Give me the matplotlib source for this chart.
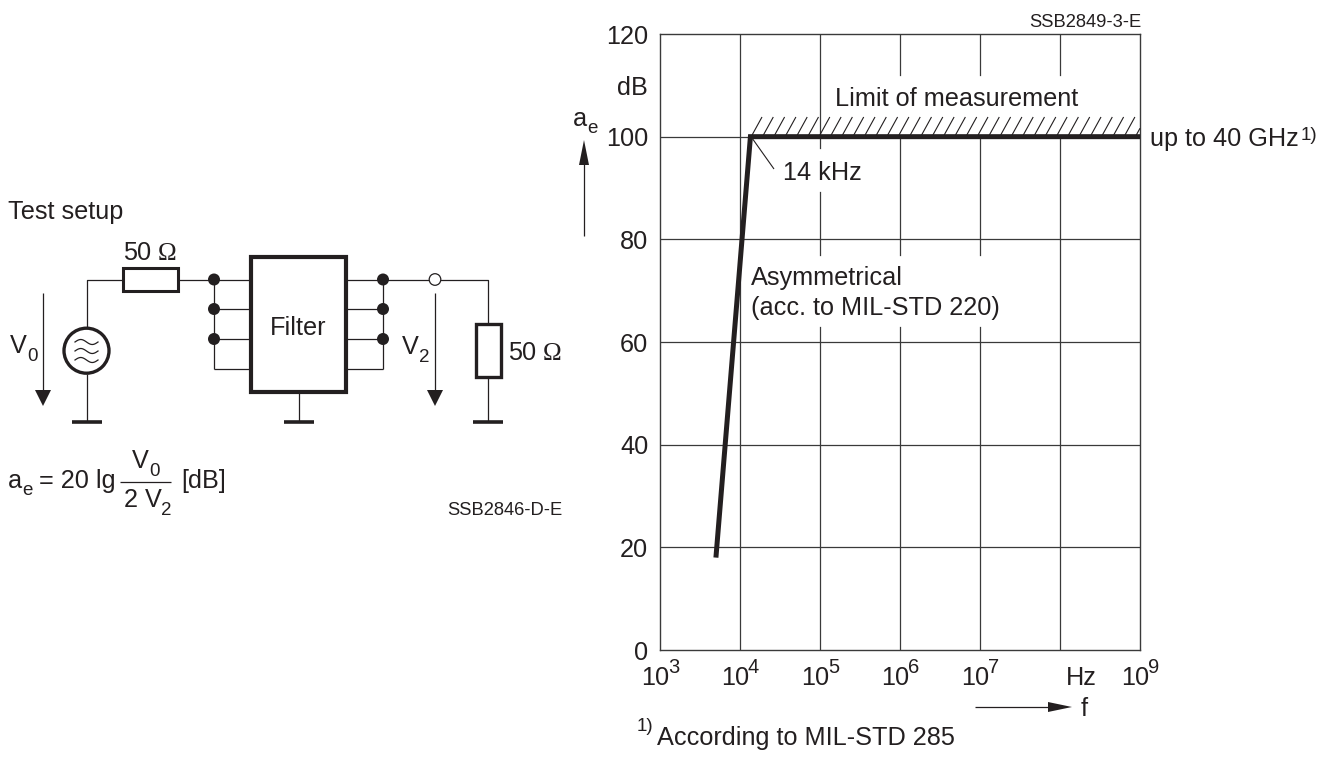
import numpy as np
import matplotlib
matplotlib.use("Agg")
import matplotlib.pyplot as plt
from matplotlib.patches import Circle, Rectangle, Polygon

plt.rcParams["font.family"] = ["Liberation Sans", "DejaVu Sans"]

INK = "#231f20"
GRID = "#3a3a3a"
FS = 18.2

# curve
freq = [5000, 13500, 1e9]
atten = [18, 100, 100]

y_ticks = [0, 20, 40, 60, 80, 100, 120]
x_lines = [1e4, 1e5, 1e6, 1e7, 1e8]
x_exps = [3, 4, 5, 6, 7, 9]

# vertical grid pieces (the lines stop around the text labels)
grid_pieces = {
    1e4: [(0, 120)],
    1e5: [(0, 63), (77, 89.2), (97.8, 120)],
    1e6: [(0, 63), (77, 100), (112, 120)],
    1e7: [(0, 63), (77, 100), (112, 120)],
    1e8: [(0, 100), (112, 120)],
}

fig = plt.figure(figsize=(13.33, 7.59), dpi=100)
W, H = 1333, 759

# chart
ax = fig.add_axes([660 / W, 1 - 650 / H, 480 / W, 616 / H])
ax.set_xscale("log")
ax.set_xlim(1e3, 1e9)
ax.set_ylim(0, 120)
for s in ax.spines.values():
    s.set_linewidth(1.0)
    s.set_color(GRID)
ax.minorticks_off()
ax.set_xticks([])
ax.tick_params(axis="x", which="both", length=0, labelbottom=False)
ax.set_yticks(y_ticks)
ax.set_yticklabels([str(v) for v in y_ticks], fontsize=FS, color=INK)
ax.tick_params(axis="y", length=0, pad=8.5)

for v in y_ticks[1:-1]:
    ax.plot([1e3, 1e9], [v, v], color=GRID, lw=0.9, zorder=1)
for xv in x_lines:
    for lo, hi in grid_pieces[xv]:
        ax.plot([xv, xv], [lo, hi], color=GRID, lw=0.9, zorder=1)

ax.plot(freq, atten, color=INK, lw=3.6, solid_capstyle="butt", solid_joinstyle="miter", zorder=3)

for e in x_exps:
    ax.annotate("10", xy=(10.0**e, 0), xytext=(-19 * 0.72, -35 * 0.72), textcoords="offset points",
                fontsize=FS, color=INK, annotation_clip=False)
    ax.annotate(str(e), xy=(10.0**e, 0), xytext=(8 * 0.72, -23 * 0.72), textcoords="offset points",
                fontsize=14.5, color=INK, annotation_clip=False)

# everything else is placed in pixels on a full figure overlay
ov = fig.add_axes([0, 0, 1, 1], facecolor="none")
ov.set_xlim(0, W)
ov.set_ylim(H, 0)
ov.axis("off")


def line(xs, ys, lw=0.9, color=INK):
    ov.plot(xs, ys, color=color, lw=lw, solid_capstyle="butt")


def txt(x, y, s, size=FS, **kw):
    ov.text(x, y, s, fontsize=size, color=INK, va="baseline", **kw)


def box(x0, y0, x1, y1, lw):
    ov.add_patch(Rectangle((x0, y0), x1 - x0, y1 - y0, fc="white", ec=INK, lw=lw, zorder=3))


def arrow_down(x, y0, y1):
    line([x, x], [y0, y1 - 10])
    ov.add_patch(Polygon([(x - 8, y1 - 16), (x + 8, y1 - 16), (x, y1)], color=INK, lw=0))


def node(x, y):
    ov.add_patch(Circle((x, y), 6, fc=INK, ec=INK, lw=0, zorder=4))


def ground(x, y):
    line([x - 15, x + 15], [y, y], lw=2.6)


# hatching above the limit line
for xb in np.arange(751, 1140, 11.3):
    top = min(xb + 11, 1140)
    line([xb, top], [137, 137 - 20 * (top - xb) / 11], lw=0.8)

# leader for 14 kHz
line([752, 774], [138, 169], lw=0.8)

txt(835, 106, "Limit of measurement")
txt(783, 180, "14 kHz")
txt(751, 285, "Asymmetrical")
txt(751, 315, "(acc. to MIL-STD 220)")
txt(1150, 146, "up to 40 GHz")
txt(1301, 140, "1)", size=13.5)
txt(1141, 27, "SSB2849-3-E", size=13.2, ha="right")
txt(648, 95, "dB", ha="right")
txt(573, 126, "a")
txt(587, 133, "e", size=13.5)
txt(1066, 685, "Hz")
txt(1081, 716, "f")
txt(637, 731, "1)", size=13.5)
txt(657, 745, "According to MIL-STD 285")

# a_e and f arrows
line([584, 584], [236, 160])
ov.add_patch(Polygon([(579, 165), (589, 165), (584, 140)], color=INK, lw=0))
line([975, 1055], [707, 707])
ov.add_patch(Polygon([(1048, 702), (1048, 712), (1072, 707)], color=INK, lw=0))

# circuit: left side
rows = [279.5, 309, 339, 369]
txt(8, 219, "Test setup")
line([86.5, 86.5, 214], [327, 279.5, 279.5])
line([86.5, 86.5], [374, 421.7])
ground(86.5, 421.7)
box(123, 267.5, 178, 291, 2.2)
txt(123, 260, "50")
txt(158, 260, "Ω", size=FS, family="Liberation Serif")
ov.add_patch(Circle((86.5, 350.7), 22.5, fc="white", ec=INK, lw=2.4, zorder=3))
wave_x = np.linspace(75, 98, 40)
for wy in [342, 351, 360]:
    ov.plot(wave_x, wy - 2.5 * np.sin((wave_x - 75) / 23 * 2 * np.pi), color=INK, lw=0.9, zorder=4)
arrow_down(43, 293, 406)
txt(10, 353, "V")
txt(27, 361, "0", size=13.5)

line([214, 214], [rows[0], rows[-1]])
for r in rows:
    line([214, 251], [r, r])
for r in rows[:3]:
    node(214, r)

# filter block
box(251, 257, 345.5, 391.5, 3.0)
txt(270, 335, "Filter")
line([298.7, 298.7], [392, 421.7])
ground(298.7, 421.7)

# circuit: right side
line([383, 383], [rows[0], rows[-1]])
for r in rows:
    line([346, 383], [r, r])
for r in rows[:3]:
    node(383, r)
line([383, 488, 488], [279.5, 279.5, 421.7])
ov.add_patch(Circle((435, 279.5), 5.8, fc="white", ec=INK, lw=0.9, zorder=4))
arrow_down(435, 293, 406)
txt(402, 354, "V")
txt(419, 361.5, "2", size=13.5)
box(476, 324, 500.5, 377, 2.4)
txt(508, 360, "50")
txt(543, 360, "Ω", size=FS, family="Liberation Serif")
ground(488, 421.7)
txt(562, 515, "SSB2846-D-E", size=13.2, ha="right")

# formula
txt(8, 488, "a")
txt(22, 495, "e", size=13.5)
txt(39, 488, "= 20 lg")
line([120, 171], [482, 482])
txt(132, 468, "V")
txt(149, 476, "0", size=13.5)
txt(124, 507, "2 V")
txt(161, 515, "2", size=13.5)
txt(181, 488, "[dB]")

fig.savefig("out.png", dpi=100)
